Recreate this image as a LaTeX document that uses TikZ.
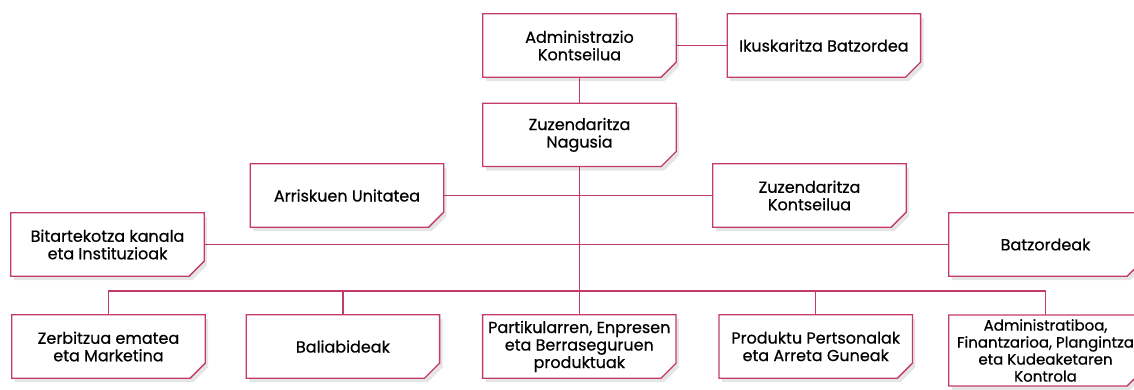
\documentclass[tikz,border=0pt]{standalone}
\usepackage{fontspec}
\setmainfont{Poppins}[FakeBold=0.6]
\usetikzlibrary{positioning, shadows, backgrounds}
\definecolor{orgline}{RGB}{196,58,108}

\begin{document}
\begin{tikzpicture}[x=1pt, y=1pt, node distance=20pt,
    unit/.style={rectangle, inner sep=0pt, minimum width=193pt, minimum height=63pt,
        align=center, font=\fontsize{16}{17.5}\selectfont},
    box/.style={draw=orgline, line width=1.3pt, fill=white,
        drop shadow={shadow xshift=3pt, shadow yshift=-4pt, opacity=0.10, fill=black}},
    link/.style={draw=orgline, line width=1.3pt}]
    \useasboundingbox (0,0) rectangle (1134,390);

        % top of the chart
        \node[unit] (admin) at (579.5,344.5) {Administrazio\\Kontseilua};
        \node[unit, right=51pt of admin] (ikus) {Ikuskaritza Batzordea};
        \node[unit, below=26pt of admin] (nagusia) {Zuzendaritza\\Nagusia};

        % middle levels
        \node[unit] (arrisk) at (347,194.5) {Arriskuen Unitatea};
        \node[unit] (zkont) at (809.5,194.5) {Zuzendaritza\\Kontseilua};
        \node[unit] (bitart) at (107.5,145.5) {Bitartekotza kanala\\eta Instituzioak};
        \node[unit] (batz) at (1045.5,145.5) {Batzordeak};

        % bottom row
        \node[unit] (zerb) at (108.5,43.5) {Zerbitzua ematea\\eta Marketina};
        \node[unit, right=41pt of zerb] (bali) {Baliabideak};
        \node[unit, right=43pt of bali] (parti) {Partikularren, Enpresen\\eta Berraseguruen\\produktuak};
        \node[unit, right=43pt of parti] (produ) {Produktu Pertsonalak\\eta Arreta Guneak};
        \node[unit, anchor=north, inner ysep=4pt, font=\fontsize{15}{17}\selectfont] (adm) at (1045.5,75) {Administratiboa,\\Finantzarioa, Plangintza\\eta Kudeaketaren\\Kontrola};

        \coordinate (busy) at (0,99);

        \begin{scope}[on background layer]
        \draw[link] (admin) -- (ikus);
        \draw[link] (admin) -- (nagusia);
        \draw[link] (nagusia) -- (nagusia |- parti.north);
        \draw[link] (arrisk) -- (zkont);
        \draw[link] (bitart) -- (batz);
        \draw[link] (zerb.north) |- (adm.north |- busy) -- (adm.north);
        \draw[link] (bali.north) -- (bali.north |- busy);
        \draw[link] (produ.north) -- (produ.north |- busy);
        % boxes with the cut corner
        \foreach \n in {admin,ikus,nagusia,arrisk,zkont,bitart,batz,zerb,bali,parti,produ,adm}
            \draw[box] (\n.north west) -- (\n.north east) -- ([yshift=15pt]\n.south east)
                -- ([xshift=-15pt]\n.south east) -- (\n.south west) -- cycle;
        \end{scope}
    \end{tikzpicture}
\end{document}
